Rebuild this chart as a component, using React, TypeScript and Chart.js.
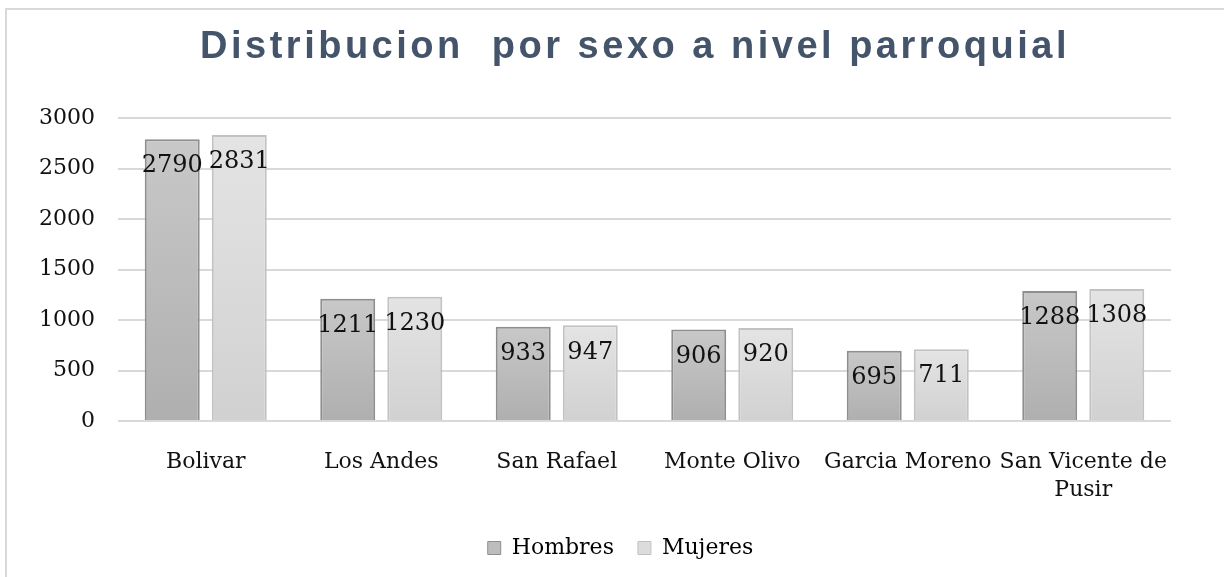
import React, { useEffect, useRef } from "react";
import { Chart, registerables } from "chart.js";

Chart.register(...registerables);

const categories: (string | string[])[] = [
  "Bolivar",
  "Los Andes",
  "San Rafael",
  "Monte Olivo",
  "Garcia Moreno",
  ["San Vicente de", "Pusir"],
];
const hombres = [2790, 1211, 933, 906, 695, 1288];
const mujeres = [2831, 1230, 947, 920, 711, 1308];
const seriesNames = ["Hombres", "Mujeres"];
const titleText = "Distribucion  por sexo a nivel parroquial";

const SERIF = "'DejaVu Serif', serif";

function barGradient(top: string, bottom: string, fallback: string) {
  return (ctx: any) => {
    const chart = ctx.chart;
    const ys = chart.scales?.y;
    if (!ys || ctx.type !== "data" || ctx.parsed == null) return fallback;
    const yTop = ys.getPixelForValue(ctx.parsed.y);
    const yBot = ys.getPixelForValue(0);
    if (!isFinite(yTop) || !isFinite(yBot) || yTop === yBot) return fallback;
    const g = chart.ctx.createLinearGradient(0, yTop, 0, yBot);
    g.addColorStop(0, top);
    g.addColorStop(1, bottom);
    return g;
  };
}

const titlePlugin = {
  id: "customTitle",
  afterDraw(chart: any) {
    const c = chart.ctx;
    c.save();
    c.font = "bold 38px 'Liberation Sans', Arial, sans-serif";
    try {
      (c as any).letterSpacing = "3.5px";
    } catch (e) {}
    c.fillStyle = "#44546A";
    c.textAlign = "center";
    c.textBaseline = "alphabetic";
    c.fillText(titleText, 635, 58);
    c.restore();
  },
};

const legendShiftPlugin = {
  id: "legendShift",
  afterLayout(chart: any) {
    const lg = chart.legend;
    if (lg) {
      lg.left -= 24;
      lg.right -= 24;
    }
  },
};

const labelPlugin = {
  id: "valueLabels",
  afterDatasetsDraw(chart: any) {
    const c = chart.ctx;
    c.save();
    c.font = "24px " + SERIF;
    c.fillStyle = "#111";
    c.textAlign = "center";
    c.textBaseline = "middle";
    chart.data.datasets.forEach((ds: any, di: number) => {
      const meta = chart.getDatasetMeta(di);
      meta.data.forEach((el: any, i: number) => {
        c.fillText(String(ds.data[i]), el.x, el.y + 27);
      });
    });
    c.restore();
  },
};

export default function App() {
  const ref = useRef<HTMLCanvasElement>(null);
  useEffect(() => {
    if (!ref.current) return;
    const chart = new Chart(ref.current, {
      type: "bar",
      data: {
        labels: categories,
        datasets: [
          {
            label: seriesNames[0],
            data: hombres,
            backgroundColor: barGradient("#c8c8c8", "#afafaf", "#bcbcbc"),
            borderColor: "#8e8e8e",
            borderWidth: 2,
          },
          {
            label: seriesNames[1],
            data: mujeres,
            backgroundColor: barGradient("#e4e4e4", "#d1d1d1", "#dadada"),
            borderColor: "#c2c2c2",
            borderWidth: 2,
          },
        ],
      },
      options: {
        animation: false,
        responsive: false,
        categoryPercentage: 0.764,
        barPercentage: 0.82,
        layout: { padding: { left: 0, right: 53, top: 118, bottom: 8 } },
        plugins: {
          title: { display: false },
          tooltip: { enabled: false },
          legend: {
            position: "bottom",
            fullSize: false,
            labels: {
              boxWidth: 13,
              boxHeight: 13,
              padding: 24,
              color: "#111",
              font: { family: SERIF, size: 22 },
              generateLabels: (ch: any) =>
                ch.data.datasets.map((ds: any, i: number) => ({
                  text: ds.label,
                  fillStyle: i === 0 ? "#bdbdbd" : "#dcdcdc",
                  strokeStyle: i === 0 ? "#8e8e8e" : "#c2c2c2",
                  lineWidth: 1,
                  datasetIndex: i,
                  hidden: false,
                })),
            },
          },
        },
        scales: {
          x: {
            grid: { display: false, drawTicks: false },
            border: { display: false },
            ticks: {
              color: "#111",
              font: { family: SERIF, size: 22, lineHeight: 1.28 },
              padding: 27,
              maxRotation: 0,
              minRotation: 0,
              autoSkip: false,
            },
            afterFit: (s: any) => {
              s.height = 92;
            },
          },
          y: {
            min: 0,
            max: 3000,
            ticks: {
              stepSize: 500,
              color: "#111",
              font: { family: SERIF, size: 22 },
              padding: 23,
              callback: (v: any) => String(v),
            },
            grid: { color: "#d9d9d9", lineWidth: 2, drawTicks: false },
            border: { display: false },
            afterFit: (s: any) => {
              s.width = 118;
            },
          },
        },
      },
      plugins: [titlePlugin, labelPlugin, legendShiftPlugin],
    });
    return () => chart.destroy();
  }, []);

  return (
    <div style={{ position: "fixed", left: 0, top: 0, width: 1224, height: 577, background: "#fff" }}>
      <div
        style={{
          position: "absolute",
          left: 5,
          top: 8,
          width: 1230,
          height: 600,
          borderLeft: "2px solid #d9d9d9",
          borderTop: "2px solid #d9d9d9",
        }}
      />
      <canvas ref={ref} width={1224} height={577} style={{ position: "absolute", left: 0, top: 0 }} />
    </div>
  );
}
